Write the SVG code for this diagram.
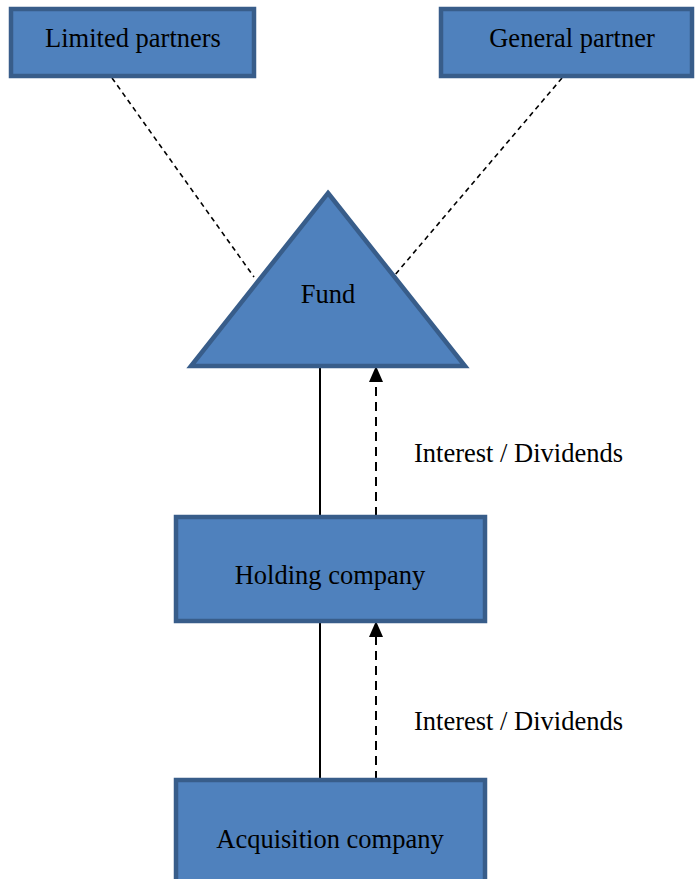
<svg xmlns="http://www.w3.org/2000/svg" width="696" height="879" viewBox="0 0 696 879">
  <defs>
    <style>
      .box { fill: #4F81BD; stroke: #385D8A; stroke-width: 4.5; }
      .lbl { font-family: "Liberation Serif", "Times New Roman", serif; font-size: 26.5px; fill: #000; }
      .mid { text-anchor: middle; }
      .owner { stroke: #000; stroke-width: 1.6; fill: none; stroke-dasharray: 5 4; }
      .solid { stroke: #000; stroke-width: 2; fill: none; }
      .flow { stroke: #000; stroke-width: 2; fill: none; stroke-dasharray: 9 6; }
    </style>
    <marker id="tri" viewBox="0 0 16 14" refX="16" refY="7" markerWidth="16" markerHeight="14" markerUnits="userSpaceOnUse" orient="auto">
      <path d="M0,0 L16,7 L0,14 Z" fill="#000"/>
    </marker>
  </defs>

  <!-- connectors -->
  <g id="connectors">
    <line class="owner" x1="112" y1="78" x2="254" y2="277"/>
    <line class="owner" x1="562" y1="78" x2="394" y2="276"/>
    <line class="solid" x1="320" y1="368" x2="320" y2="516"/>
    <line class="flow" x1="376" y1="516" x2="376" y2="366" marker-end="url(#tri)"/>
    <line class="solid" x1="320" y1="623" x2="320" y2="780"/>
    <line class="flow" x1="376" y1="780" x2="376" y2="621" marker-end="url(#tri)"/>
  </g>

  <g id="limited-partners">
    <rect class="box" x="11" y="9" width="243" height="67"/>
    <text class="lbl mid" x="133" y="47">Limited partners</text>
  </g>

  <g id="general-partner">
    <rect class="box" x="441" y="9" width="251" height="67"/>
    <text class="lbl mid" x="572" y="47">General partner</text>
  </g>

  <g id="fund">
    <polygon class="box" points="328,193 465,366 191,366"/>
    <text class="lbl mid" x="328" y="303">Fund</text>
  </g>

  <g id="holding-company">
    <rect class="box" x="176" y="517" width="309" height="104"/>
    <text class="lbl mid" x="330" y="584">Holding company</text>
  </g>

  <g id="acquisition-company">
    <rect class="box" x="176" y="780" width="309" height="110"/>
    <text class="lbl mid" x="330" y="848">Acquisition company</text>
  </g>

  <g id="flow-labels">
    <text class="lbl" x="414" y="462">Interest / Dividends</text>
    <text class="lbl" x="414" y="730">Interest / Dividends</text>
  </g>
</svg>
